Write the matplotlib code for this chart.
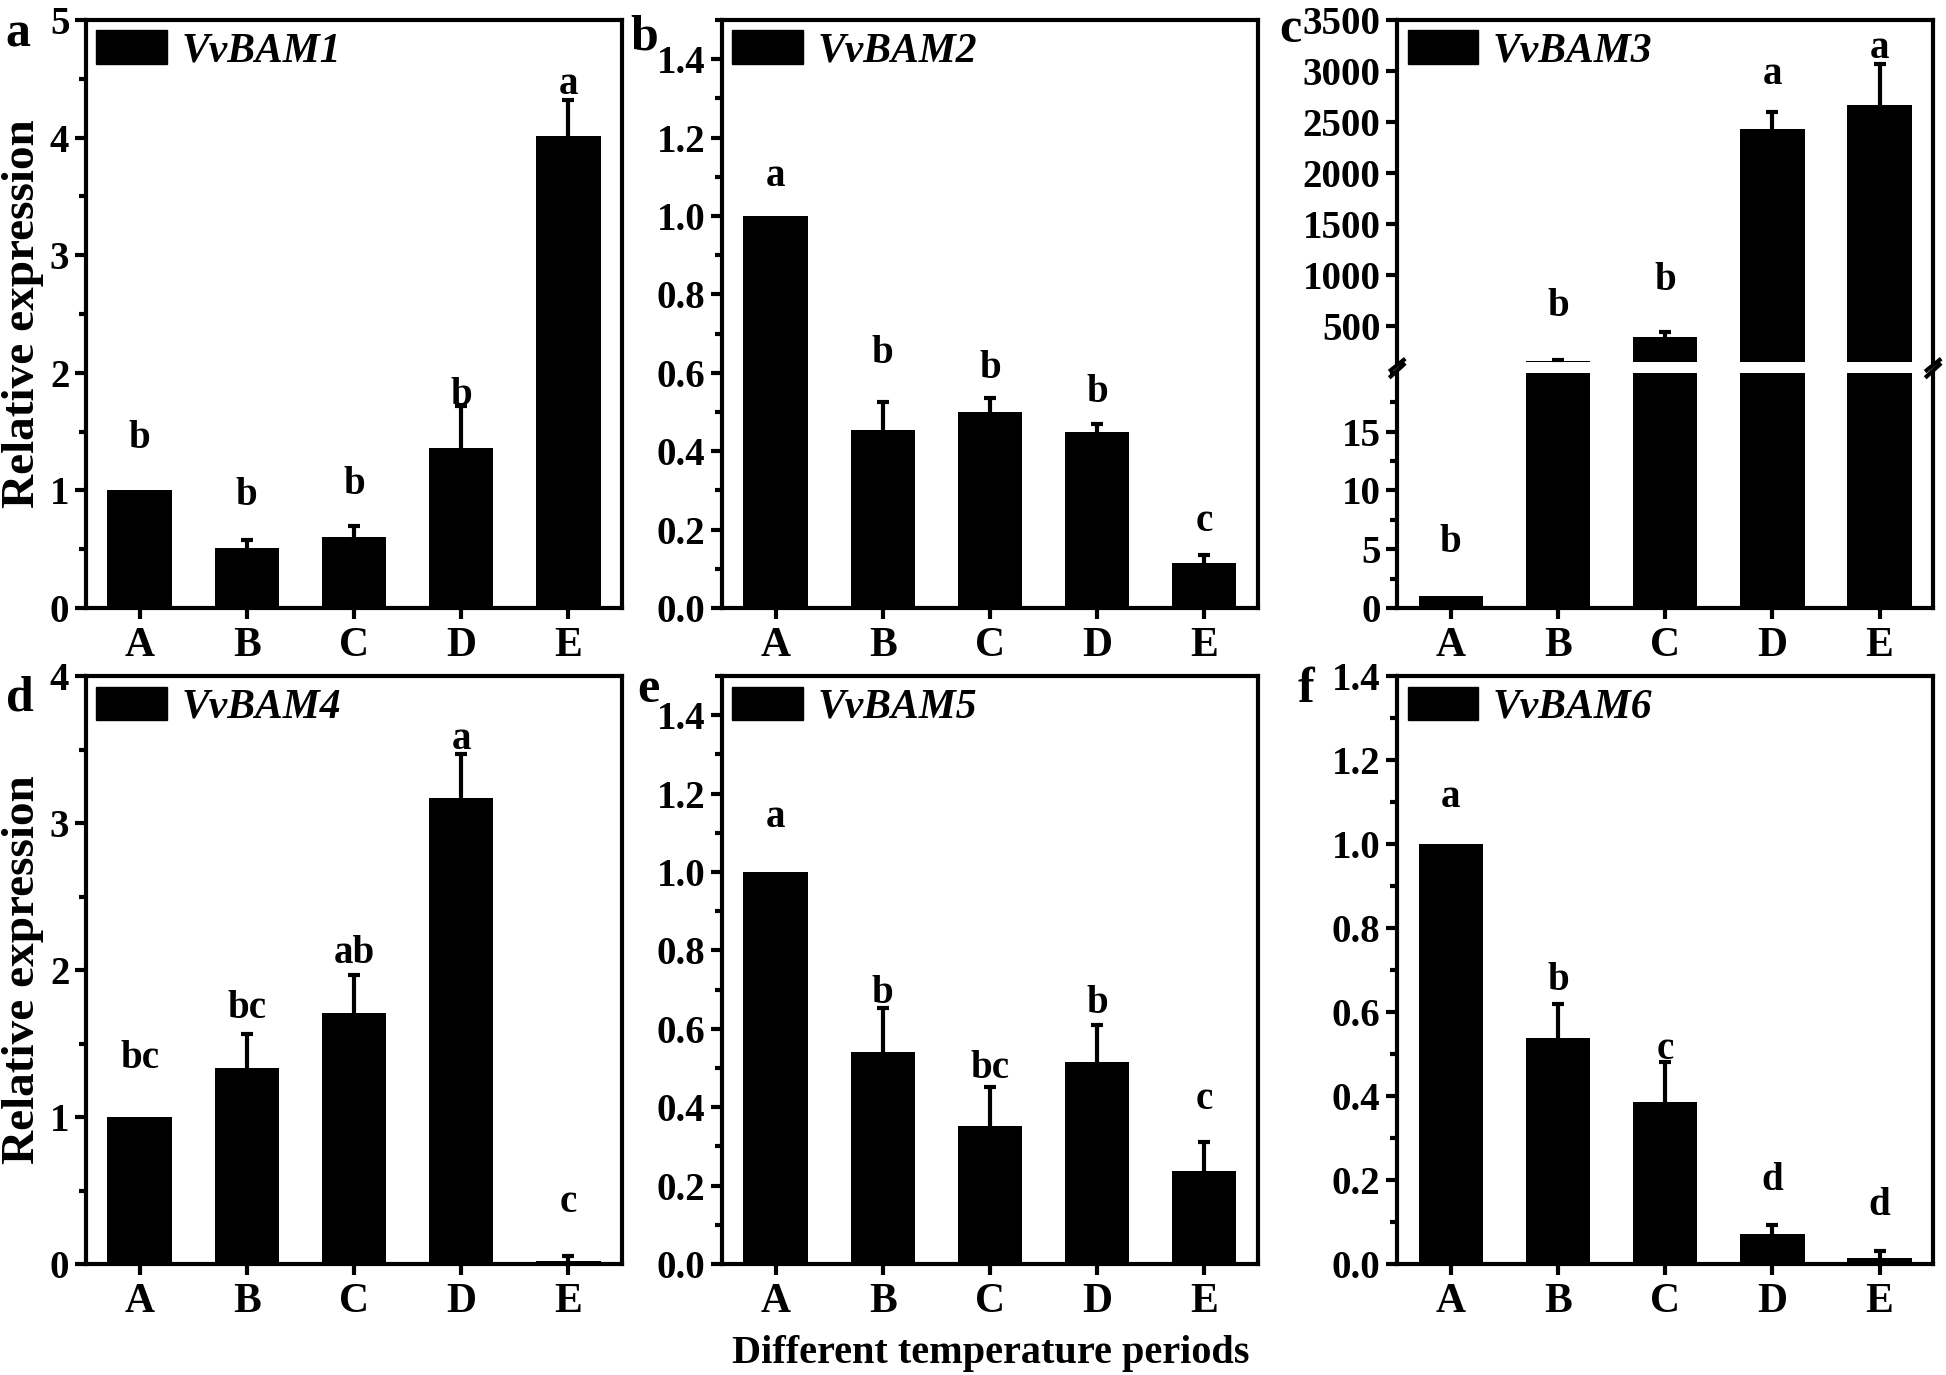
import numpy as np
import matplotlib
matplotlib.use('Agg')
from matplotlib import pyplot as plt, patches
from matplotlib.ticker import MultipleLocator, FormatStrFormatter

plt.rcParams['font.family'] = ['Liberation Serif', 'DejaVu Serif']
plt.rcParams['font.weight'] = 'bold'

periods = ['A', 'B', 'C', 'D', 'E']

# relative expression, upper error, significance letters (+ read-off letter heights)
bam1 = [1.0, 0.51, 0.60, 1.36, 4.01]
bam1_err = [0.0, 0.065, 0.10, 0.36, 0.31]
bam1_sig = ['b', 'b', 'b', 'b', 'a']
bam1_sig_y = [1.44, 0.96, 1.05, 1.81, 4.45]

bam2 = [1.0, 0.455, 0.50, 0.449, 0.114]
bam2_err = [0.0, 0.07, 0.035, 0.02, 0.022]
bam2_sig = ['a', 'b', 'b', 'b', 'c']
bam2_sig_y = [1.10, 0.65, 0.61, 0.55, 0.22]

bam3 = [1.0, 160, 393, 2429, 2673]
bam3_err = [0.0, 8, 50, 170, 400]
bam3_sig = ['b', 'b', 'b', 'a', 'a']
bam3_sig_y = [5.6, 693, 950, 2964, 3221]

bam4 = [1.0, 1.333, 1.705, 3.169, 0.022]
bam4_err = [0.0, 0.23, 0.26, 0.30, 0.03]
bam4_sig = ['bc', 'bc', 'ab', 'a', 'c']
bam4_sig_y = [1.40, 1.74, 2.11, 3.57, 0.42]

bam5 = [1.0, 0.54, 0.352, 0.515, 0.238]
bam5_err = [0.0, 0.113, 0.10, 0.095, 0.073]
bam5_sig = ['a', 'b', 'bc', 'b', 'c']
bam5_sig_y = [1.14, 0.69, 0.50, 0.665, 0.42]

bam6 = [1.0, 0.538, 0.387, 0.072, 0.014]
bam6_err = [0.0, 0.08, 0.093, 0.021, 0.016]
bam6_sig = ['a', 'b', 'c', 'd', 'd']
bam6_sig_y = [1.11, 0.675, 0.51, 0.20, 0.14]

lw = 3
tfs = 28
x = np.arange(len(periods))

fig = plt.figure(figsize=(19.46, 13.75), dpi=100)

cols = [0.0442, 0.371, 0.718]
w = 0.2754
rows = [0.5578, 0.0807]
h = 0.4276


def style(ax, ylim, major, minor, fmt):
    ax.set_xlim(-0.5, 4.5)
    ax.set_ylim(*ylim)
    ax.yaxis.set_major_locator(MultipleLocator(major))
    if minor:
        ax.yaxis.set_minor_locator(MultipleLocator(minor))
    ax.yaxis.set_major_formatter(FormatStrFormatter(fmt))
    ax.set_xticks(x)
    ax.set_xticklabels(periods)
    ax.tick_params(axis='both', which='major', direction='out', width=lw, length=8, labelsize=tfs, pad=4)
    ax.tick_params(axis='x', which='major', labelsize=30, pad=6)
    ax.tick_params(axis='both', which='minor', direction='out', width=lw, length=5)
    ax.tick_params(axis='x', which='minor', bottom=False)
    for s in ax.spines.values():
        s.set_linewidth(lw)


def draw_bars(ax, vals, err):
    ax.bar(x, vals, width=0.6, color='black')
    vals = np.array(vals)
    err = np.array(err)
    m = err > 0
    _, caps, _ = ax.errorbar(x[m], vals[m], yerr=[np.zeros(m.sum()), err[m]], fmt='none',
                             elinewidth=lw, capsize=4.5, capthick=lw, ecolor='black')
    caps[0].set_visible(False)


def add_legend(ax, name):
    h_ = patches.Patch(facecolor='black', edgecolor='black')
    ax.legend([h_], [name], loc='upper left', frameon=False, handlelength=1.7, handleheight=0.85,
              borderaxespad=0.15, borderpad=0.1, handletextpad=0.35,
              prop=dict(family='Liberation Serif', style='italic', weight='bold', size=30))


def add_sig(ax, sig, sig_y):
    for xi, s, yi in zip(x, sig, sig_y):
        ax.text(xi, yi, s, ha='center', va='center', fontsize=tfs, fontweight='bold')


panels = [
    (0, 0, bam1, bam1_err, bam1_sig, bam1_sig_y, (0, 5), 1, 0.5, '%d', 'VvBAM1'),
    (1, 0, bam2, bam2_err, bam2_sig, bam2_sig_y, (0, 1.5), 0.2, 0.1, '%.1f', 'VvBAM2'),
    (0, 1, bam4, bam4_err, bam4_sig, bam4_sig_y, (0, 4), 1, 0.5, '%d', 'VvBAM4'),
    (1, 1, bam5, bam5_err, bam5_sig, bam5_sig_y, (0, 1.5), 0.2, 0.1, '%.1f', 'VvBAM5'),
    (2, 1, bam6, bam6_err, bam6_sig, bam6_sig_y, (0, 1.4), 0.2, 0.1, '%.1f', 'VvBAM6'),
]

for ci, ri, vals, err, sig, sig_y, ylim, major, minor, fmt, name in panels:
    ax = fig.add_axes([cols[ci], rows[ri], w, h])
    draw_bars(ax, vals, err)
    style(ax, ylim, major, minor, fmt)
    add_legend(ax, name)
    add_sig(ax, sig, sig_y)
    if ci == 0:
        ax.set_ylabel('Relative expression', fontsize=34, fontweight='bold', labelpad=4)

# panel c with broken axis
lo_h = 0.40 * h
gap = 0.019 * h
up_h = h - lo_h - gap
ax_lo = fig.add_axes([cols[2], rows[0], w, lo_h])
ax_up = fig.add_axes([cols[2], rows[0] + lo_h + gap, w, up_h])
for ax in (ax_lo, ax_up):
    draw_bars(ax, bam3, bam3_err)
style(ax_lo, (0, 20), 5, 2.5, '%d')
ax_lo.set_yticks([0, 5, 10, 15])
style(ax_up, (155, 3500), 500, None, '%d')
ax_up.set_yticks(np.arange(500, 3501, 500))
ax_up.tick_params(axis='x', which='both', bottom=False, labelbottom=False)
ax_up.spines['bottom'].set_visible(False)
ax_lo.spines['top'].set_visible(False)
add_legend(ax_up, 'VvBAM3')
for xi, s, yi in zip(x, bam3_sig, bam3_sig_y):
    tgt = ax_lo if yi < 20 else ax_up
    tgt.text(xi, yi, s, ha='center', va='center', fontsize=tfs, fontweight='bold')

# break marks
d = 0.012
for xs in (0, 1):
    ax_up.plot([xs - d, xs + d], [-0.025, 0.005], transform=ax_up.transAxes, color='k', lw=lw, clip_on=False)
    ax_lo.plot([xs - d, xs + d], [0.985, 1.035], transform=ax_lo.transAxes, color='k', lw=lw, clip_on=False)

# panel letters
for lab, px, py in [('a', 0.009, 0.975), ('b', 0.331, 0.973), ('c', 0.663, 0.978),
                    ('d', 0.010, 0.492), ('e', 0.333, 0.498), ('f', 0.671, 0.498)]:
    fig.text(px, py, lab, fontsize=36, fontweight='bold', ha='center', va='center')

fig.text(0.509, 0.016, 'Different temperature periods', fontsize=29, fontweight='bold', ha='center', va='center')

fig.savefig('out.png', dpi=100)
